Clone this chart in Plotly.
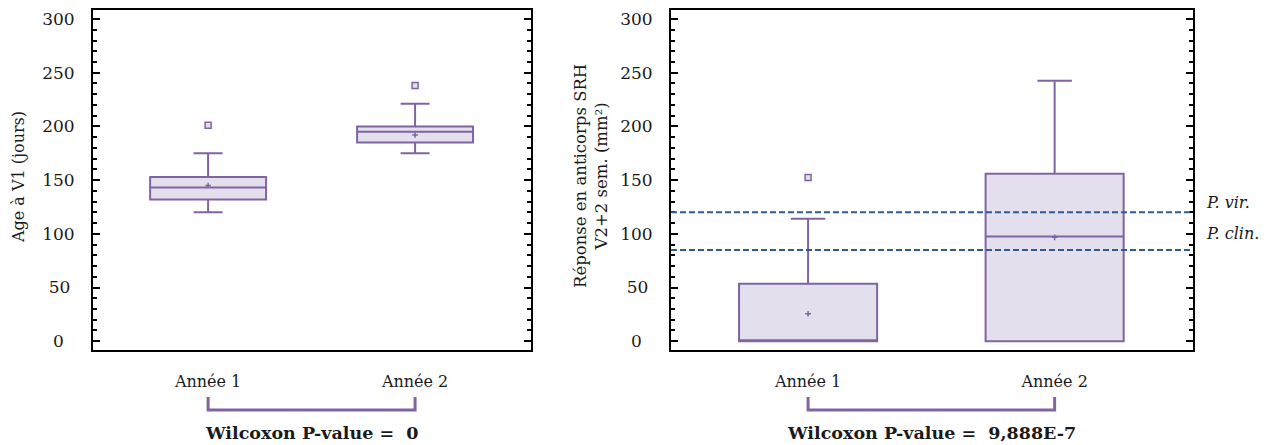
import plotly.graph_objects as go
from plotly.subplots import make_subplots

# ---------------- data ----------------
categories = ["Année 1", "Année 2"]

# Left panel: Age à V1 (jours)
age_q1 = [132, 185]
age_median = [143, 195]
age_q3 = [153, 200]
age_lower = [120, 175]
age_upper = [175, 221]
age_mean = [145, 192]
age_outliers = [201, 238]

# Right panel: Réponse en anticorps SRH
srh_q1 = [0, 0]
srh_median = [0, 97.6]
srh_q3 = [53.4, 156]
srh_lower = [0, 0]
srh_upper = [114, 242.6]
srh_mean = [25.5, 96.7]
srh_outlier_cat = ["Année 1"]
srh_outliers = [152.5]

thresholds = [120, 85]          # P. vir., P. clin.
threshold_labels = ["P. vir.", "P. clin."]

y_tickvals = [0, 50, 100, 150, 200, 250, 300]
y_ticktext = ["0\u2007", "50\u2005", "100", "150", "200", "250", "300"]

pvalues = ["0", "9,888E-7"]

# ---------------- style ----------------
PURPLE = "#8064a2"
FILL = "#e4dfec"
DASH = "#2f5b94"
FONT = "DejaVu Serif"
TXT = "#1a1a1a"

fig = make_subplots(rows=1, cols=2)

def add_box(col, q1, med, q3, lo, hi, mean, out_x, out_y):
    fig.add_trace(go.Box(
        x=categories, q1=q1, median=med, q3=q3,
        lowerfence=lo, upperfence=hi,
        fillcolor=FILL, line=dict(color=PURPLE, width=2),
        whiskerwidth=0.25, boxpoints=False, showlegend=False,
        hoverinfo="skip"), row=1, col=col)
    fig.add_trace(go.Scatter(
        x=categories, y=mean, mode="markers",
        marker=dict(symbol="cross-thin", size=4, line=dict(color=PURPLE, width=1.5)),
        showlegend=False, hoverinfo="skip"), row=1, col=col)
    fig.add_trace(go.Scatter(
        x=out_x, y=out_y, mode="markers",
        marker=dict(symbol="square", size=6, color=FILL, line=dict(color=PURPLE, width=1.5)),
        showlegend=False, hoverinfo="skip"), row=1, col=col)

add_box(1, age_q1, age_median, age_q3, age_lower, age_upper, age_mean,
        categories, age_outliers)
add_box(2, srh_q1, srh_median, srh_q3, srh_lower, srh_upper, srh_mean,
        srh_outlier_cat, srh_outliers)

for t in thresholds:
    fig.add_hline(y=t, line=dict(color=DASH, width=2, dash="6px,3px"), row=1, col=2)

yaxis_common = dict(
    range=[-8.2, 308.4], tickvals=y_tickvals, ticktext=y_ticktext,
    ticks="inside", ticklen=7, tickwidth=2, tickcolor="black",
    minor=dict(dtick=10, ticks="inside", ticklen=4, tickwidth=1.5, tickcolor="black"),
    showline=True, linecolor="black", linewidth=2, mirror="ticks",
    showgrid=False, zeroline=False, automargin=False,
    tickfont=dict(family=FONT, size=17, color=TXT),
    ticklabelstandoff=13,
)
xaxis_common = dict(
    type="category", range=[-0.556, 1.56],
    showline=True, linecolor="black", linewidth=2, mirror=True,
    ticks="", showgrid=False, zeroline=False, automargin=False,
    tickfont=dict(family=FONT, size=16, color=TXT),
    ticklabelstandoff=16,
)

fig.update_xaxes(**xaxis_common)
fig.update_yaxes(**yaxis_common)
fig.update_layout(
    xaxis=dict(domain=[93 / 1274, 531 / 1274]),
    xaxis2=dict(domain=[671 / 1274, 1192.7 / 1274]),
    yaxis=dict(domain=[1 - 350 / 445, 1 - 10 / 445]),
    yaxis2=dict(domain=[1 - 350 / 445, 1 - 10 / 445]),
)

annotations = []
# left y-axis title
annotations.append(dict(
    text="Age à V1 (jours)", xref="paper", yref="paper",
    x=18 / 1274, y=1 - 177 / 445, textangle=-90, showarrow=False,
    font=dict(family=FONT, size=16, color=TXT), xanchor="center", yanchor="middle",
))
# right y-axis title (two lines)
annotations.append(dict(
    text="Réponse en anticorps SRH<br>V2+2 sem. (mm²)", xref="paper", yref="paper",
    x=591 / 1274, y=1 - 176 / 445, textangle=-90, showarrow=False,
    font=dict(family=FONT, size=16.5, color=TXT), xanchor="center", yanchor="middle",
))
# threshold labels
for lbl, ypx in zip(threshold_labels, [202.7, 233.3]):
    annotations.append(dict(
        text=f"<i>{lbl}</i>", xref="paper", yref="paper",
        x=1204 / 1274, y=1 - ypx / 445, xanchor="left", yanchor="middle",
        showarrow=False, font=dict(family=FONT, size=16, color=TXT)))
# Wilcoxon texts and brackets
for i, (xr, pv) in enumerate(zip(["x", "x2"], pvalues)):
    annotations.append(dict(
        text=f"<b>Wilcoxon P-value =  {pv}</b>", xref=xr, yref="paper",
        x=0.5, y=1 - 433 / 445, xanchor="center", yanchor="middle",
        showarrow=False, font=dict(family=FONT, size=17.5, color=TXT)))
    fig.add_shape(type="path", xref=xr, yref="paper",
                  path=f"M 0,{1 - 397 / 445} L 0,{1 - 410 / 445} L 1,{1 - 410 / 445} L 1,{1 - 397 / 445}",
                  line=dict(color=PURPLE, width=3))

fig.update_layout(
    annotations=annotations,
    width=1274, height=445,
    margin=dict(l=0, r=0, t=0, b=0),
    paper_bgcolor="white", plot_bgcolor="white",
    boxgap=0.2, showlegend=False,
    font=dict(family=FONT, color=TXT),
)

fig.write_html("out.html", config={"displayModeBar": False},
               post_script="document.body.style.margin='0px';document.body.style.overflow='hidden';")
